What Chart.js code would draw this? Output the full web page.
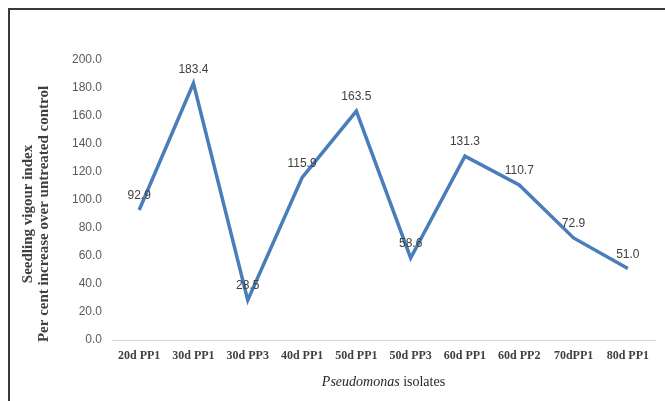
<!DOCTYPE html>
<html>
<head>
<meta charset="utf-8">
<script src="https://cdn.jsdelivr.net/npm/chart.js@4.4.1/dist/chart.umd.min.js"></script>
<style>
    html, body { margin: 0; padding: 0; background: #fff; }
    #wrap { position: relative; width: 665px; height: 401px; }
    #frame {
        position: absolute; left: 8px; top: 8px; right: 0; bottom: 0;
        border-top: 2px solid #3a3a3a; border-left: 2px solid #3a3a3a;
        pointer-events: none;
    }
</style>
</head>
<body>
<div id="wrap">
    <canvas id="chart" width="665" height="401"></canvas>
    <div id="frame"></div>
</div>
<script>
// ================= DATA =================
const isolates = ['20d PP1', '30d PP1', '30d PP3', '40d PP1', '50d PP1', '50d PP3', '60d PP1', '60d PP2', '70dPP1', '80d PP1'];
const vigourIncrease = [92.9, 183.4, 28.5, 115.9, 163.5, 58.6, 131.3, 110.7, 72.9, 51.0];
const yTicks = [0, 20, 40, 60, 80, 100, 120, 140, 160, 180, 200];

const yTitleLines = ['Seedling vigour index', 'Per cent increase over untreated control'];

// ================= PLUGINS =================
const pointLabels = {
    id: 'pointLabels',
    afterDatasetsDraw(chart) {
        const ctx = chart.ctx;
        const meta = chart.getDatasetMeta(0);
        ctx.save();
        ctx.font = '12px "Liberation Sans", Arial, sans-serif';
        ctx.fillStyle = '#404040';
        ctx.textAlign = 'center';
        ctx.textBaseline = 'bottom';
        meta.data.forEach((pt, i) => {
            ctx.fillText(vigourIncrease[i].toFixed(1), pt.x, pt.y - 8);
        });
        ctx.restore();
    }
};

const axisTitles = {
    id: 'axisTitles',
    afterDraw(chart) {
        const ctx = chart.ctx;
        const area = chart.chartArea;
        ctx.save();

        // y title, two rotated lines
        ctx.fillStyle = '#404040';
        ctx.font = 'bold 15px "Liberation Serif", "Times New Roman", serif';
        ctx.textAlign = 'center';
        ctx.textBaseline = 'middle';
        ctx.translate(0, 214);
        ctx.rotate(-Math.PI / 2);
        ctx.fillText(yTitleLines[0], 0, 28);
        ctx.fillText(yTitleLines[1], 0, 44);
        ctx.restore();

        // x title, italic genus name
        ctx.save();
        ctx.fillStyle = '#262626';
        ctx.textBaseline = 'middle';
        const italic = 'italic 14px "Liberation Serif", "Times New Roman", serif';
        const plain = '14px "Liberation Serif", "Times New Roman", serif';
        ctx.font = italic;
        const w1 = ctx.measureText('Pseudomonas').width;
        ctx.font = plain;
        const w2 = ctx.measureText(' isolates').width;
        let x = (area.left + area.right) / 2 - (w1 + w2) / 2;
        ctx.font = italic;
        ctx.fillText('Pseudomonas', x, 382);
        ctx.font = plain;
        ctx.fillText(' isolates', x + w1, 382);
        ctx.restore();
    }
};

// ================= CHART =================
new Chart(document.getElementById('chart'), {
    type: 'line',
    data: {
        labels: isolates,
        datasets: [{
            data: vigourIncrease,
            borderColor: '#4a7ebb',
            borderWidth: 3.5,
            pointRadius: 0,
            tension: 0,
            fill: false
        }]
    },
    options: {
        responsive: false,
        animation: false,
        layout: { padding: { top: 60, right: 10, left: 0, bottom: 0 } },
        plugins: {
            legend: { display: false },
            tooltip: { enabled: false }
        },
        scales: {
            x: {
                offset: true,
                grid: { display: false, drawTicks: false },
                border: { color: '#d9d9d9', width: 1 },
                ticks: {
                    padding: 9,
                    maxRotation: 0,
                    autoSkip: false,
                    color: '#404040',
                    font: { family: '"Liberation Serif", "Times New Roman", serif', size: 12, weight: 'bold' }
                },
                afterFit(axis) { axis.height = 61; }
            },
            y: {
                min: 0,
                max: 200,
                afterBuildTicks(axis) { axis.ticks = yTicks.map(v => ({ value: v })); },
                grid: { display: false, drawTicks: false },
                border: { display: false },
                ticks: {
                    padding: 10,
                    color: '#595959',
                    font: { family: '"Liberation Sans", Arial, sans-serif', size: 12 },
                    callback: v => Number(v).toFixed(1)
                },
                afterFit(axis) { axis.width = 112; }
            }
        }
    },
    plugins: [pointLabels, axisTitles]
});
</script>
</body>
</html>
